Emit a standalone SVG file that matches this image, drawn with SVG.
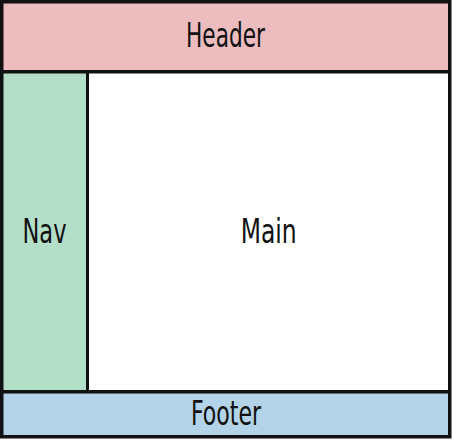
<svg xmlns="http://www.w3.org/2000/svg" width="452" height="440" viewBox="0 0 452 440">
<style>
.lbl{font-family:"Liberation Sans Narrow","DejaVu Sans Condensed","Liberation Sans",sans-serif;font-size:33px;fill:#111;text-anchor:middle}
</style>
<rect x="0" y="0" width="452" height="440" fill="#fff"/>
<rect id="frame" x="0" y="0" width="451.5" height="438.5" fill="#111"/>
<g id="header">
<rect x="3.5" y="3.5" width="444.5" height="66.5" fill="#ecbcbf"/>
<text class="lbl" x="225.5" y="46.7" textLength="79" lengthAdjust="spacingAndGlyphs">Header</text>
</g>
<g id="nav">
<rect x="3.5" y="73.5" width="82.5" height="316.5" fill="#b3dec8"/>
<text class="lbl" x="44.5" y="243.3" textLength="44" lengthAdjust="spacingAndGlyphs">Nav</text>
</g>
<g id="main">
<rect x="89" y="73.5" width="359" height="316.5" fill="#ffffff"/>
<text class="lbl" x="268.7" y="243.3" textLength="56" lengthAdjust="spacingAndGlyphs">Main</text>
</g>
<g id="footer">
<rect x="3.5" y="393.5" width="444.5" height="41.5" fill="#b3d4e8"/>
<text class="lbl" x="226" y="425" textLength="70" lengthAdjust="spacingAndGlyphs">Footer</text>
</g>
</svg>
